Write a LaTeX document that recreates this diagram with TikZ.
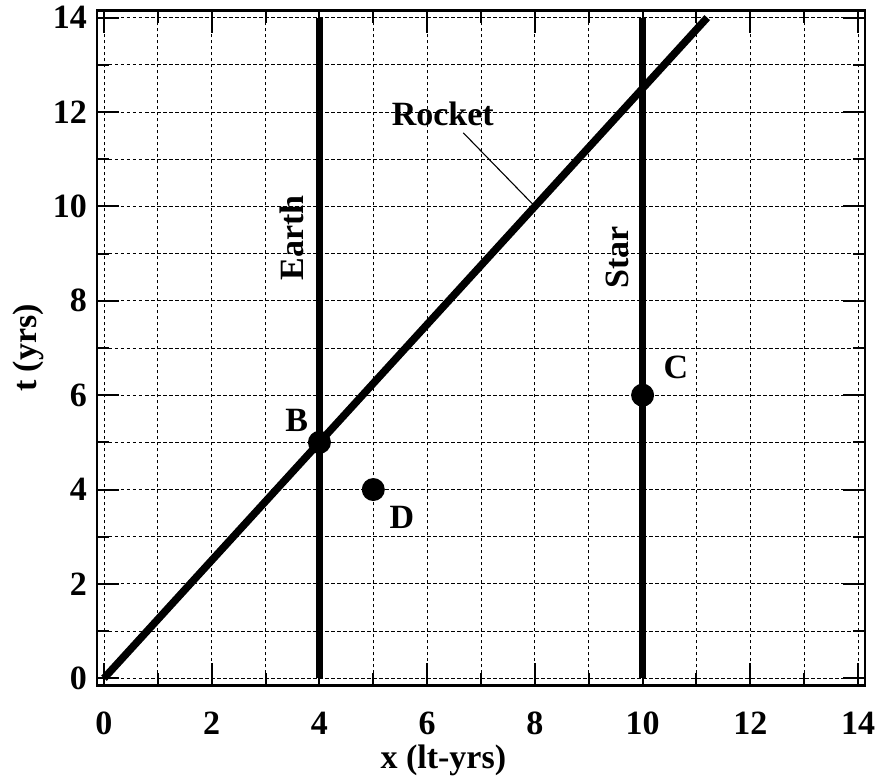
\documentclass[tikz,border=0pt]{standalone}
\usepackage{fontspec}
\setmainfont{Liberation Serif}
\begin{document}
\begin{tikzpicture}[x=53.86pt,y=47.19pt,
  font=\fontsize{34}{40}\selectfont\bfseries,
  gridline/.style={dash pattern=on 3.5pt off 2.5pt, line width=0.9pt},
  frame/.style={line width=2.8pt},
  tickline/.style={line width=2pt},
  worldline/.style={line width=7.5pt},
  event/.style={circle, fill=black, minimum size=23pt, inner sep=0pt},
  lbl/.style={inner sep=0pt}]
\useasboundingbox (-104pt,-100.7pt) rectangle (774pt,678.3pt);
% grid
\foreach \i in {0,...,14} {
  \draw[gridline] ([yshift=-7pt]\i,0) -- ([yshift=7pt]\i,14);
  \draw[gridline] ([xshift=-7pt]0,\i) -- ([xshift=7pt]14,\i);
}
% ticks
\foreach \i in {0,...,14} {
  \pgfmathsetmacro\len{mod(\i,2)==0 ? 22 : 12}
  \draw[tickline] ([yshift=-7pt]\i,0) -- ++(0,\len pt);
  \draw[tickline] ([yshift=7pt]\i,14) -- ++(0,-\len pt);
  \draw[tickline] ([xshift=-7pt]0,\i) -- ++(\len pt,0);
  \draw[tickline] ([xshift=7pt]14,\i) -- ++(-\len pt,0);
}
% frame
\draw[frame] ([shift={(-7pt,-7pt)}]0,0) rectangle ([shift={(7pt,7pt)}]14,14);
% tick labels
\foreach \i in {0,2,...,14} {
  \node[lbl] (xl\i) at ([yshift=-45pt]\i,0) {\i};
  \node[lbl, anchor=east] (yl\i) at ([xshift=-17pt]0,\i) {\i};
}
% axis titles
\node[lbl] (xtitle) at ([yshift=-81.7pt]6.3,0) {x (lt-yrs)};
\node[lbl, rotate=90] (ttitle) at ([xshift=-76pt]0,7) {t (yrs)};
% world lines
\coordinate (e0) at (4,0);
\coordinate (e1) at (4,14);
\coordinate (s0) at (10,0);
\coordinate (s1) at (10,14);
\coordinate (r0) at (0,0);
\coordinate (r1) at (11.2,14);
\draw[worldline] (e0) -- (e1);
\draw[worldline] (s0) -- (s1);
\draw[worldline] (r0) -- (r1);
% events
\node[event] (B) at (4,5) {};
\node[event] (C) at (10,6) {};
\node[event] (D) at (5,4) {};
% labels
\node[lbl] (Blbl) at (3.58,5.47) {B};
\node[lbl] (Clbl) at (10.62,6.59) {C};
\node[lbl] (Dlbl) at (5.53,3.40) {D};
\node[lbl, rotate=90] (earth) at (3.48,9.33) {Earth};
\node[lbl, rotate=90] (star) at (9.53,8.92) {Star};
\node[lbl] (rocket) at (6.29,11.96) {Rocket};
\coordinate (ldr) at (6.67,11.56);
\coordinate (rk) at (8,10);
\draw[line width=1.1pt] (ldr) -- (rk);
\end{tikzpicture}
\end{document}
